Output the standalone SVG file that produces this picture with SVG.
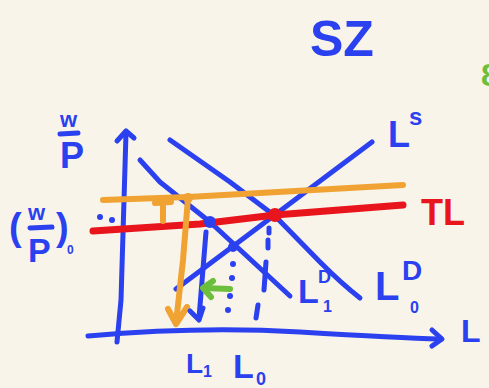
<svg xmlns="http://www.w3.org/2000/svg" width="489" height="388" viewBox="0 0 489 388">
<style>
.b{stroke:#2b40ee;stroke-width:5;fill:none;stroke-linecap:round;stroke-linejoin:round}
.o{stroke:#f0a233;stroke-width:6;fill:none;stroke-linecap:round;stroke-linejoin:round}
.r{stroke:#e8161c;stroke-width:7;fill:none;stroke-linecap:round;stroke-linejoin:round}
.g{stroke:#6cbf3c;stroke-width:6;fill:none;stroke-linecap:round;stroke-linejoin:round}
.bt{fill:#2b40ee;font-family:"Liberation Sans",Arial,sans-serif;font-weight:bold}
.rt{fill:#e8161c;font-family:"Liberation Sans",Arial,sans-serif;font-weight:bold}
.gt{fill:#6cbf3c;font-family:"Liberation Sans",Arial,sans-serif;font-weight:bold}
</style>
<rect width="489" height="388" fill="#f8f4e9"/>

<g id="axes">
  <path class="b" d="M126,133 L124,200 L121,300 L117,342"/>
  <path class="b" d="M117,141 L126,131 L134,138"/>
  <path class="b" d="M88,336 Q200,326 300,332 T440,339"/>
  <path class="b" d="M432,330 L442,339 L432,346"/>
</g>

<g id="supply">
  <path class="b" d="M176,289 L372,142"/>
</g>
<g id="demand0">
  <path class="b" d="M170,140 L230,182 L275,216 L320,262 Q342,284 360,298"/>
</g>
<g id="demand1">
  <path class="b" d="M140,160 L160,182 L210,222 L290,296"/>
</g>
<g id="tl">
  <path class="r" d="M93,231 L200,224 L275,215 L403,205"/>
  <circle cx="275" cy="215" r="7" fill="#e8161c"/>
</g>
<g id="orange">
  <path class="o" d="M103,200 L188,197 L403,185"/>
  <circle cx="188" cy="198" r="5" fill="#f0a233"/>
  <path class="o" d="M155,203 L171,202 M163,203 L163,221"/>
</g>
<g id="points">
  <circle cx="210" cy="222" r="6" fill="#2b40ee"/>
  <circle cx="233" cy="247" r="5" fill="#2b40ee"/>
</g>

<g id="connectors">
  <path class="o" d="M188,198 L183,260 L176,323"/>
  <path class="o" d="M168,309 L176,324 L187,307"/>
  <path class="b" d="M206,232 L199,318"/>
  <path class="b" d="M190,311 L199,320 L203,308"/>
  <g fill="#2b40ee">
    <circle cx="100" cy="217" r="3"/>
    <circle cx="112" cy="220" r="3"/>
    <circle cx="233" cy="264" r="3"/>
    <circle cx="232" cy="278" r="3"/>
    <circle cx="230" cy="296" r="3"/>
    <circle cx="228" cy="310" r="3"/>
  </g>
  <path class="b" d="M269,228 L269,233 M268,240 L268,248 M266,262 L264,290 M258,305 L256,318"/>
  <path class="g" d="M230,289 L204,288"/>
  <path class="g" d="M213,281 L203,288 L211,297"/>
</g>

<g id="labels">
  <text class="bt" x="310" y="56" font-size="50">SZ</text>
  <text class="gt" x="481" y="86" font-size="32">8</text>
  <text class="bt" x="60" y="127" font-size="22">w</text>
  <path class="b" d="M60,134 L78,133"/>
  <text class="bt" x="60" y="168" font-size="36">P</text>
  <text class="bt" x="9" y="240" font-size="38">(</text>
  <text class="bt" x="28" y="220" font-size="22">w</text>
  <path class="b" d="M30,228 L52,227"/>
  <text class="bt" x="28" y="262" font-size="34">P</text>
  <text class="bt" x="56" y="240" font-size="38">)</text>
  <text class="bt" x="67" y="254" font-size="12">0</text>
  <text class="bt" x="388" y="147" font-size="36">L</text>
  <text class="bt" x="409" y="125" font-size="24">s</text>
  <text class="rt" x="421" y="225" font-size="36">TL</text>
  <text class="bt" x="298" y="303" font-size="34">L</text>
  <text class="bt" x="318" y="283" font-size="18">D</text>
  <text class="bt" x="323" y="312" font-size="16">1</text>
  <text class="bt" x="375" y="300" font-size="40">L</text>
  <text class="bt" x="402" y="280" font-size="28">D</text>
  <text class="bt" x="410" y="313" font-size="16">0</text>
  <text class="bt" x="461" y="342" font-size="32">L</text>
  <text class="bt" x="186" y="373" font-size="28">L</text>
  <text class="bt" x="203" y="377" font-size="16">1</text>
  <text class="bt" x="233" y="378" font-size="34">L</text>
  <text class="bt" x="256" y="385" font-size="18">0</text>
</g>
</svg>
